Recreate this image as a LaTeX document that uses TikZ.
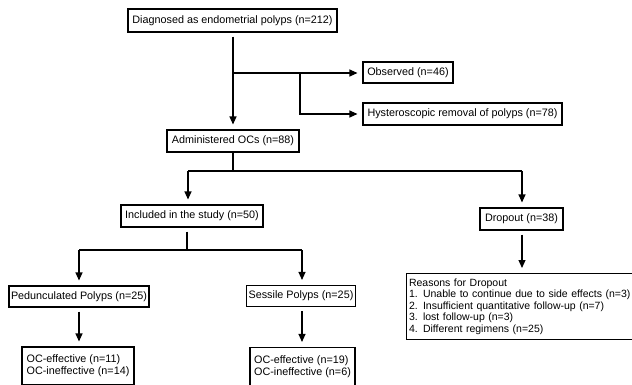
\documentclass[tikz,border=0pt]{standalone}
\usepackage{fontspec}
\setmainfont{Liberation Sans}
\usetikzlibrary{arrows.meta, positioning}

\begin{document}
\begin{tikzpicture}[x=1pt, y=-1pt,
    box/.style={draw, line width=1.1pt, inner xsep=2pt, inner ysep=0pt, minimum height=22pt,
                font=\fontsize{10.8}{11.8}\selectfont},
    link/.style={line width=1.1pt},
    arr/.style={link, -{Triangle[length=8pt, width=7pt]}, shorten >=5pt},
    fromgap/.style={shorten <=4pt}]
    \useasboundingbox (0,0) rectangle (632,384);

    \node[box, minimum width=209pt, minimum height=23pt] (diag) at (232.5,20.5) {Diagnosed as endometrial polyps (n=212)};
    \node[box, minimum width=90pt, minimum height=21pt] (obs) at (408,72.5) {Observed (n=46)};
    \node[box, minimum width=199pt] (hyst) at (462.5,114) {Hysteroscopic removal of polyps (n=78)};
    \node[box, minimum width=132pt] (admin) at (233,141) {Administered OCs (n=88)};
    \node[box, minimum width=142pt] (incl) at (192,216) {Included in the study (n=50)};
    \node[box, minimum width=83pt] (drop) at (521.5,219) {Dropout (n=38)};
    \node[box, minimum width=140pt, minimum height=21pt] (ped) at (79,296.5) {Pedunculated Polyps (n=25)};
    \node[box, minimum width=108pt, minimum height=21pt] (sess) at (301,296) {Sessile Polyps (n=25)};
    \node[box, minimum width=112pt, minimum height=38pt, align=left] (ocl) at (78,366) {OC-effective (n=11)\\OC-ineffective (n=14)};
    \node[box, minimum width=105pt, minimum height=38pt, align=left] (ocr) at (302.5,366.5) {OC-effective (n=19)\\OC-ineffective (n=6)};
    \node[box, anchor=north west, text width=228pt, inner xsep=2.5pt, minimum height=66pt, align=left,
          font=\fontsize{10.5}{11.6}\selectfont] (why) at (406,273)
        {Reasons for Dropout\\1. Unable to continue due to side effects (n=3)\\2. Insufficient quantitative follow-up (n=7)\\3. lost follow-up (n=3)\\4. Different regimens (n=25)};

    \coordinate (j1) at (233,73);
    \coordinate (j2) at (300,73);
    \coordinate (j3) at (188,171);
    \coordinate (j4) at (522,171);
    \coordinate (j5) at (79,250);
    \coordinate (j6) at (302,250);

    \draw[arr, fromgap] (diag.south -| admin.north) -- (admin.north);
    \draw[arr] (j1) -- (j1 -| obs.west);
    \draw[arr] (j2) |- (hyst.west);

    \draw[link] (admin.south) -- (admin.south |- j3);
    \draw[link] (j3) -- (j4);
    \draw[link, fromgap] ([xshift=-5pt]incl.south) -- ([xshift=-5pt]incl.south |- j5);
    \draw[link] (j5) -- (j6);

    \foreach \a/\b in {j3/incl, j4/drop, j5/ped, j6/sess}
        \draw[arr] (\a) -- (\a |- \b.north);
    \foreach \a/\b/\c in {ped/ocl/j5, sess/ocr/j6, drop/why/j4}
        \draw[arr, fromgap] (\a.south -| \c) -- (\c |- \b.north);
\end{tikzpicture}
\end{document}
